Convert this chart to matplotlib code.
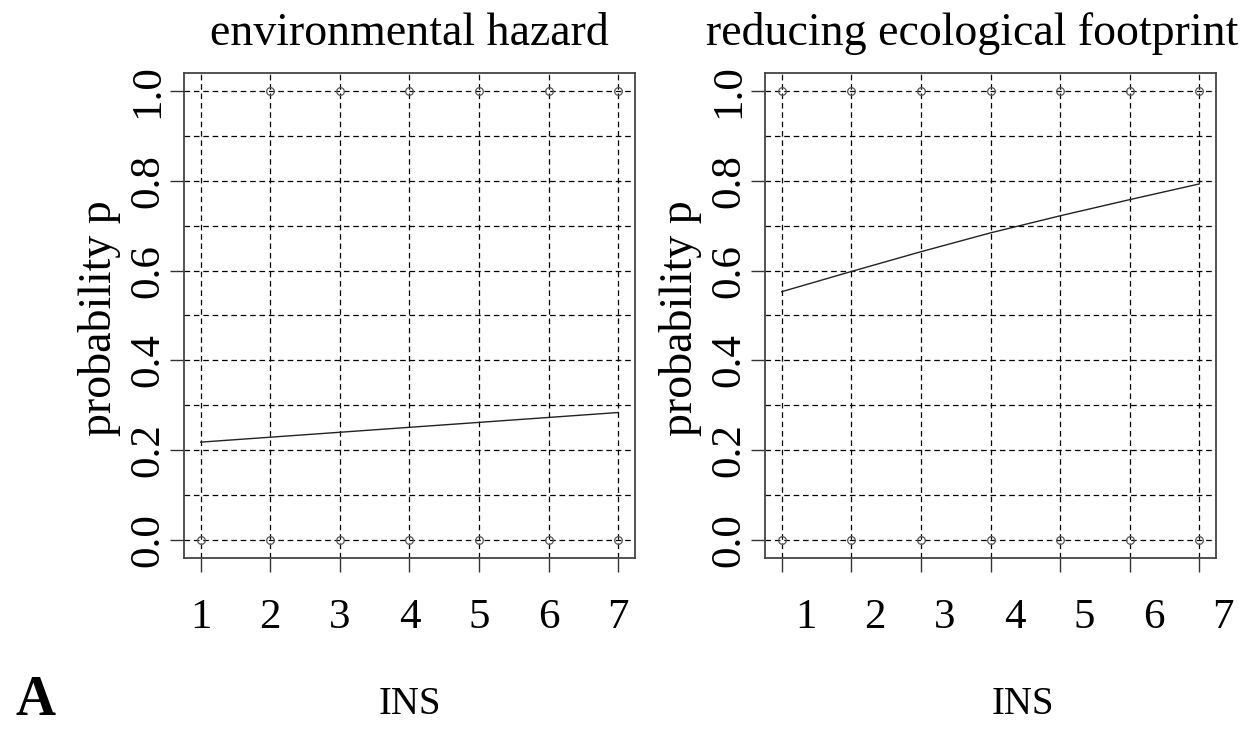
import numpy as np
import matplotlib
matplotlib.use('Agg')
import matplotlib.pyplot as plt
import matplotlib.transforms as mtransforms

# Data
ins = [1, 2, 3, 4, 5, 6, 7]
p_hazard = [0.218, 0.229, 0.240, 0.251, 0.262, 0.273, 0.284]
p_footprint = [0.553, 0.598, 0.642, 0.684, 0.722, 0.758, 0.793]

# observed responses (0/1) drawn as small circles
obs_hazard_x = [1, 2, 3, 4, 5, 6, 7, 2, 3, 4, 5, 6, 7]
obs_hazard_y = [0, 0, 0, 0, 0, 0, 0, 1, 1, 1, 1, 1, 1]
obs_foot_x = [1, 2, 3, 4, 5, 6, 7, 1, 2, 3, 4, 5, 6, 7]
obs_foot_y = [0, 0, 0, 0, 0, 0, 0, 1, 1, 1, 1, 1, 1, 1]

titles = ['environmental hazard', 'reducing ecological footprint']
ytick_vals = [0.0, 0.2, 0.4, 0.6, 0.8, 1.0]
ygrid_vals = [0.0, 0.1, 0.2, 0.3, 0.4, 0.5, 0.6, 0.7, 0.8, 0.9, 1.0]

plt.rcParams['font.family'] = ['Liberation Serif', 'DejaVu Serif']

W, H = 1255, 729
fig = plt.figure(figsize=(W / 100, H / 100), dpi=100)

def px_axes(x0, y0, x1, y1):
    return fig.add_axes([x0 / W, 1 - y1 / H, (x1 - x0) / W, (y1 - y0) / H])

ax1 = px_axes(184, 73, 635, 558)
ax2 = px_axes(765, 73, 1216, 558)

panels = [
    (ax1, p_hazard, obs_hazard_x, obs_hazard_y, titles[0], 0.5, 0),
    (ax2, p_footprint, obs_foot_x, obs_foot_y, titles[1], 0.46, 24),
]

for ax, p, ox, oy, title, tx, xoff in panels:
    ax.set_xlim(0.76, 7.24)
    ax.set_ylim(-0.04, 1.04)
    for v in ins:
        ax.axvline(v, color='black', lw=0.9, ls=(0, (4.5, 3)), zorder=1)
    for v in ygrid_vals:
        ax.axhline(v, color='black', lw=0.9, ls=(0, (4.5, 3)), zorder=1)
    ax.plot(ox, oy, 'o', ms=5.5, mfc='none', mec='#555555', mew=0.9, zorder=2)
    ax.plot(ins, p, color='#222222', lw=1.0, zorder=3)

    ax.set_xticks(ins)
    ax.set_yticks(ytick_vals)
    ax.set_yticklabels([f'{v:.1f}' for v in ytick_vals], rotation=90, va='center')
    ax.tick_params(axis='both', direction='out', length=10, width=1.0, color='#333333',
                   labelsize=31)
    ax.tick_params(axis='x', pad=19)
    ax.tick_params(axis='y', pad=2)
    for s in ax.spines.values():
        s.set_linewidth(1.3)
        s.set_color('#444444')

    if xoff:
        shift = mtransforms.ScaledTranslation(xoff / 100, 0, fig.dpi_scale_trans)
        for lab in ax.get_xticklabels():
            lab.set_transform(lab.get_transform() + shift)

    ax.set_title(title, fontsize=33, x=tx, pad=20)
    ax.set_ylabel('probability p', fontsize=33)
    ax.yaxis.set_label_coords(-0.14, 0.495)
    ax.set_xlabel('INS', fontsize=28)
    ax.xaxis.label.set_va('center')
    ax.xaxis.set_label_coords(0.5 + xoff * 1.35 / 451, -0.303)

fig.text(35 / W, 1 - 715 / H, 'A', fontsize=40, fontweight='bold', ha='center', va='baseline')

fig.savefig('out.png', dpi=100)
